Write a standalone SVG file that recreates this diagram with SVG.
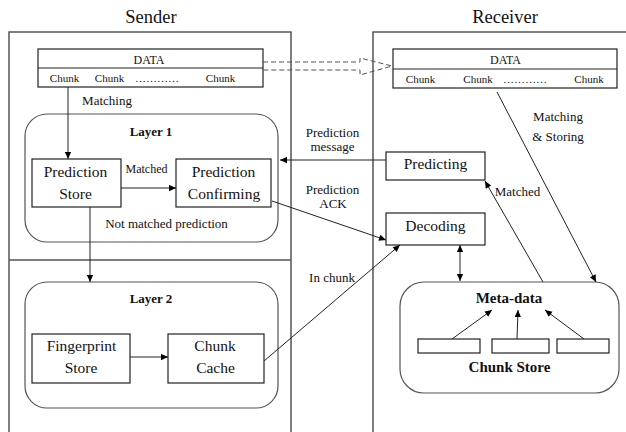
<svg xmlns="http://www.w3.org/2000/svg" width="626" height="432" viewBox="0 0 626 432">
<defs>
<marker id="ah" viewBox="0 0 10 10" refX="10" refY="5" markerWidth="8" markerHeight="7" orient="auto-start-reverse" markerUnits="userSpaceOnUse">
<path d="M0,0.5 L10,5 L0,9.5 z" fill="#000"/>
</marker>
<style>
text{font-family:"Liberation Serif","Times New Roman",serif;fill:#111;text-anchor:middle}
.box{fill:#fff;stroke:#222;stroke-width:1.2}
.lane{fill:none;stroke:#555;stroke-width:1.5}
.rr{fill:#fff;stroke:#555;stroke-width:1.2}
.ln{fill:none;stroke:#222;stroke-width:1}
.t{font-size:15.5px}
.s{font-size:11px}
.d{font-size:12px}
.m{font-size:13px}
.b{font-size:13px;font-weight:bold}
.b2{font-size:15px;font-weight:bold}
.h{font-size:18.5px}
</style>
</defs>
<rect width="626" height="432" fill="#fff"/>
<text class="h" x="151" y="23">Sender</text>
<text class="h" x="505" y="23">Receiver</text>
<g id="sender">
<rect class="lane" x="9" y="32" width="282" height="410"/>
<line class="lane" x1="9" y1="260" x2="291" y2="260"/>
</g>
<g id="receiver">
<rect class="lane" x="373" y="32" width="270" height="410"/>
</g>
<g id="sender-data">
<rect class="box" x="38" y="49" width="225" height="38"/>
<line class="ln" x1="38" y1="68" x2="263" y2="68"/>
<text class="d" x="149" y="64">DATA</text>
<text class="s" x="64.5" y="82">Chunk</text>
<text class="s" x="109.5" y="82">Chunk</text>
<text class="s" x="157" y="82">…………</text>
<text class="s" x="220.5" y="82">Chunk</text>
</g>
<g id="receiver-data">
<rect class="box" x="393" y="49" width="224" height="39"/>
<line class="ln" x1="393" y1="69" x2="617" y2="69"/>
<text class="d" x="505.5" y="64">DATA</text>
<text class="s" x="420.5" y="83">Chunk</text>
<text class="s" x="478" y="83">Chunk</text>
<text class="s" x="525" y="83">…………</text>
<text class="s" x="589" y="83">Chunk</text>
</g>
<g id="layer1">
<rect class="rr" x="25" y="114" width="253" height="128" rx="22"/>
<text class="b" x="151" y="136">Layer 1</text>
</g>
<g id="prediction-store">
<rect class="box" x="32" y="159" width="89" height="48"/>
<text class="t" x="75.5" y="177">Prediction</text>
<text class="t" x="75.5" y="199">Store</text>
</g>
<g id="prediction-confirming">
<rect class="box" x="176" y="159" width="95" height="48"/>
<text class="t" x="223.5" y="177">Prediction</text>
<text class="t" x="224" y="199">Confirming</text>
</g>
<g id="layer2">
<rect class="rr" x="25" y="282" width="253" height="126" rx="22"/>
<text class="b" x="151" y="303">Layer 2</text>
</g>
<g id="fingerprint-store">
<rect class="box" x="32" y="334" width="98" height="49"/>
<text class="t" x="81.5" y="351">Fingerprint</text>
<text class="t" x="81" y="373">Store</text>
</g>
<g id="chunk-cache">
<rect class="box" x="168" y="334" width="96" height="49"/>
<text class="t" x="215" y="351">Chunk</text>
<text class="t" x="215.5" y="373">Cache</text>
</g>
<g id="predicting">
<rect class="box" x="386" y="152" width="99" height="28"/>
<text class="t" x="435.5" y="168.5">Predicting</text>
</g>
<g id="decoding">
<rect class="box" x="386" y="213" width="99" height="32"/>
<text class="t" x="435.5" y="230.5">Decoding</text>
</g>
<g id="chunk-store">
<rect class="rr" x="400" y="282" width="219" height="111" rx="24"/>
<text class="b2" x="509" y="303">Meta-data</text>
<rect class="box" x="418" y="339" width="62" height="14"/>
<rect class="box" x="492" y="339" width="57" height="14"/>
<rect class="box" x="557" y="339" width="52" height="14"/>
<text class="b2" x="509.5" y="372">Chunk Store</text>
</g>
<g id="connectors">
<path d="M263,62 H360 V58 L392,66 L360,75 V70 H263" fill="none" stroke="#555" stroke-width="1" stroke-dasharray="5,3"/>
<line class="ln" x1="68" y1="87" x2="68" y2="159" marker-end="url(#ah)"/>
<line class="ln" x1="121" y1="188" x2="176" y2="188" marker-end="url(#ah)"/>
<line class="ln" x1="90" y1="207" x2="90" y2="282" marker-end="url(#ah)"/>
<line class="ln" x1="130" y1="357" x2="168" y2="357" marker-end="url(#ah)"/>
<line class="ln" x1="386" y1="160" x2="280" y2="160" marker-end="url(#ah)"/>
<line class="ln" x1="272" y1="201" x2="386" y2="240" marker-end="url(#ah)"/>
<line class="ln" x1="264" y1="361" x2="400" y2="245" marker-end="url(#ah)"/>
<line class="ln" x1="460" y1="245" x2="460" y2="281" marker-start="url(#ah)" marker-end="url(#ah)"/>
<line class="ln" x1="543" y1="282" x2="485" y2="181" marker-end="url(#ah)"/>
<line class="ln" x1="497" y1="92" x2="596" y2="282" marker-end="url(#ah)"/>
<line class="ln" x1="452" y1="339" x2="492" y2="310" marker-end="url(#ah)"/>
<line class="ln" x1="517" y1="339" x2="518" y2="310" marker-end="url(#ah)"/>
<line class="ln" x1="584" y1="339" x2="545" y2="310" marker-end="url(#ah)"/>
</g>
<g id="labels">
<text class="m" x="107" y="105">Matching</text>
<text class="d" x="146.5" y="173">Matched</text>
<text class="m" x="166.5" y="228">Not matched prediction</text>
<text class="m" x="332.5" y="137">Prediction</text>
<text class="m" x="332.5" y="151">message</text>
<text class="m" x="332.5" y="194">Prediction</text>
<text class="m" x="333" y="208">ACK</text>
<text class="m" x="332" y="282">In chunk</text>
<text class="m" x="517.5" y="196">Matched</text>
<text class="m" x="558" y="121">Matching</text>
<text class="m" x="558" y="141">&amp; Storing</text>
</g>
</svg>
